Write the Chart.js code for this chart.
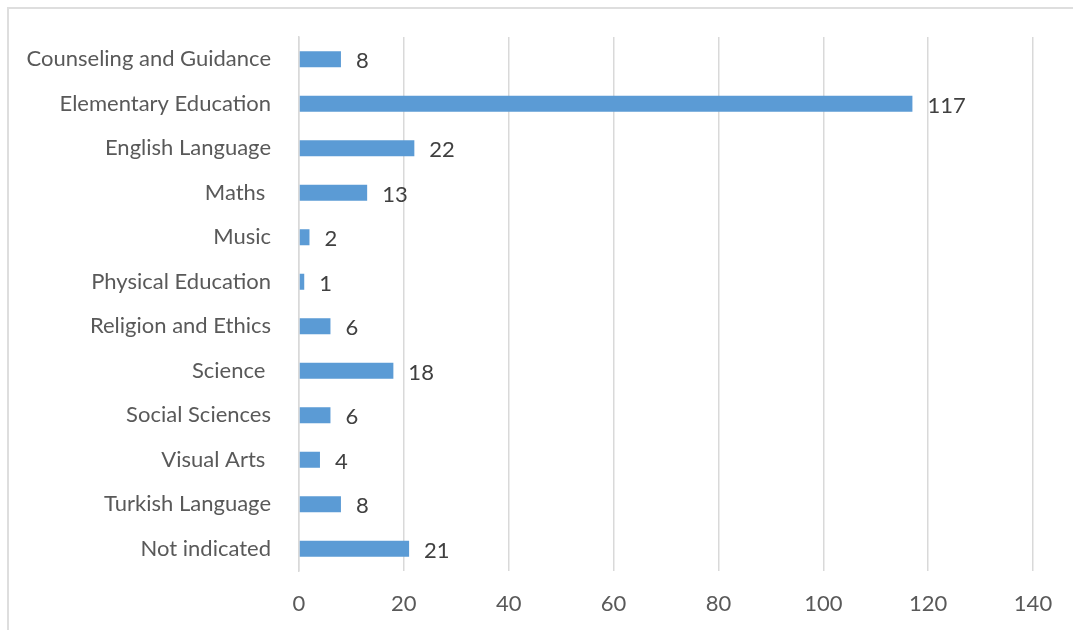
<!DOCTYPE html>
<html>
<head>
<meta charset="utf-8">
<script src="https://cdn.jsdelivr.net/npm/chart.js@4"></script>
<style>
  html, body { margin: 0; padding: 0; background: #fff; }
  #wrap { position: relative; width: 1073px; height: 630px; }
  #frame { position: absolute; left: 7px; top: 7px; right: 0; bottom: 0;
           border-top: 2px solid #dedede; border-left: 2px solid #dedede; }
  canvas { position: absolute; left: 0; top: 0; }
</style>
</head>
<body>
<div id="wrap">
  <div id="frame"></div>
  <canvas id="chart" width="1073" height="630"></canvas>
</div>
<script>
// subjects (trailing spaces kept as they appear in the source sheet)
const subjects = ['Counseling and Guidance', 'Elementary Education', 'English Language', 'Maths ',
  'Music', 'Physical Education', 'Religion and Ethics', 'Science ', 'Social Sciences',
  'Visual Arts ', 'Turkish Language', 'Not indicated'];
const counts = [8, 117, 22, 13, 2, 1, 6, 18, 6, 4, 8, 21];
const xTicks = [0, 20, 40, 60, 80, 100, 120, 140];

const FONT = 'Lato, "Open Sans", sans-serif';

// value labels to the right of each bar
const valueLabels = {
  id: 'valueLabels',
  afterDatasetsDraw(chart) {
    const ctx = chart.ctx;
    const meta = chart.getDatasetMeta(0);
    const xs = chart.scales.x;
    ctx.save();
    ctx.font = '22px ' + FONT;
    ctx.fillStyle = '#404040';
    ctx.textBaseline = 'middle';
    ctx.textAlign = 'left';
    meta.data.forEach((bar, i) => {
      const x = xs.getPixelForValue(counts[i]) + 15;
      ctx.fillText(String(counts[i]), x, bar.y + 2);
    });
    ctx.restore();
  }
};

new Chart(document.getElementById('chart'), {
  type: 'bar',
  data: {
    labels: subjects,
    datasets: [{
      data: counts,
      backgroundColor: '#5b9bd5',
      barPercentage: 0.36,
      categoryPercentage: 1
    }]
  },
  options: {
    indexAxis: 'y',
    responsive: false,
    animation: false,
    layout: { padding: { left: 0, right: 40, top: 37, bottom: 0 } },
    plugins: { legend: { display: false }, tooltip: { enabled: false } },
    scales: {
      x: {
        min: 0, max: 140,
        afterBuildTicks(scale) { scale.ticks = xTicks.map(v => ({ value: v })); },
        afterFit(scale) { scale.height = 630 - 571; },
        grid: { color: '#d9d9d9', lineWidth: 1.5, drawTicks: false },
        border: { display: false },
        ticks: { color: '#595959', font: { family: FONT, size: 22 }, padding: 20 }
      },
      y: {
        afterFit(scale) { scale.width = 299; scale.paddingTop = 0; scale.paddingBottom = 0; },
        grid: { display: false, drawTicks: false },
        border: { color: '#d9d9d9', width: 1.5 },
        ticks: { color: '#595959', font: { family: FONT, size: 22 }, padding: 28 }
      }
    }
  },
  plugins: [valueLabels]
});
</script>
</body>
</html>
